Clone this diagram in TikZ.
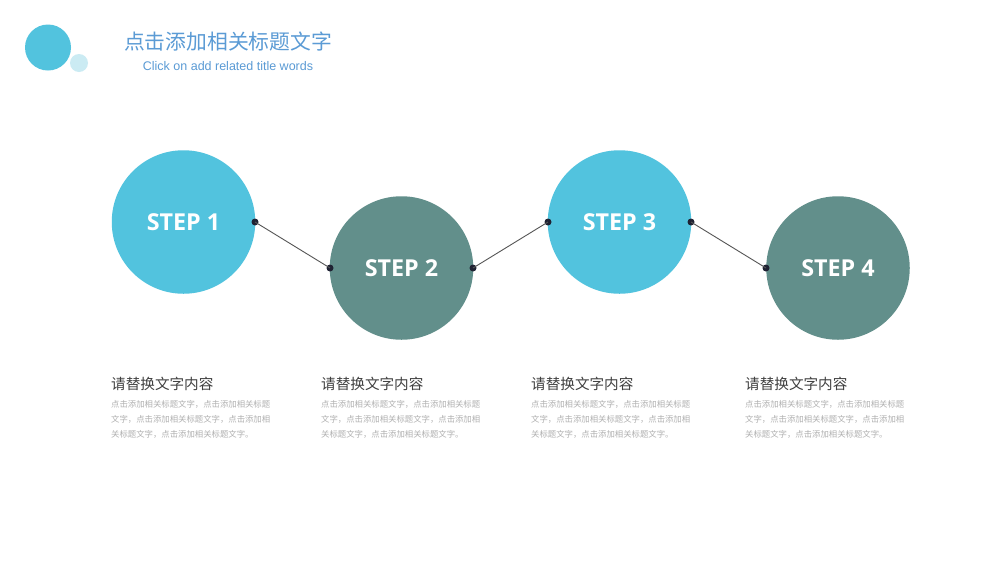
\documentclass[tikz,border=0pt]{standalone}
\usepackage{fontspec}
\setmainfont{Liberation Sans}
\newfontfamily\cjk{Noto Sans CJK SC}
\newfontfamily\stepfont{Open Sans}
\definecolor{cblue}{HTML}{52C3DE}
\definecolor{cpale}{HTML}{CBEBF3}
\definecolor{cgreen}{HTML}{628F8B}
\definecolor{ctitle}{HTML}{5B9BD5}
\definecolor{chead}{HTML}{404040}
\definecolor{cbody}{HTML}{B0B0B0}
\definecolor{cdot}{HTML}{1F2233}
\definecolor{clink}{HTML}{555555}
\tikzset{
 x=1pt,y=-1pt,
 stepcircle/.style={circle,minimum size=143.5pt,inner sep=0pt,text=white,font=\stepfont\fontsize{23.3}{28}\selectfont\bfseries},
 bluestep/.style={stepcircle,fill=cblue},
 greenstep/.style={stepcircle,fill=cgreen},
 linkdot/.style={circle,fill=cdot,minimum size=7pt,inner sep=0pt},
 link/.style={draw=clink,line width=0.9pt},
 headtext/.style={anchor=west,inner sep=0pt,text=chead,font=\cjk\fontsize{14.6}{18}\selectfont},
 bodytext/.style={anchor=north west,inner sep=0pt,text=cbody,align=left,font=\cjk\fontsize{8.37}{15}\selectfont},
}
\newcommand{\bodycopy}{点击添加相关标题文字，点击添加相关标题\\文字，点击添加相关标题文字，点击添加相\\关标题文字，点击添加相关标题文字。}
\newcommand{\steplabel}[1]{\raisebox{-0.8pt}{#1}}
\begin{document}
\begin{tikzpicture}
\useasboundingbox (0,0) rectangle (1000,563);
\fill[white] (0,0) rectangle (1000,563);
\node[circle,fill=cblue,minimum size=46pt,inner sep=0pt] (logoa) at (48,47.5) {};
\node[circle,fill=cpale,minimum size=18pt,inner sep=0pt] (logob) at (79,63) {};
\node[anchor=center,inner sep=0pt,text=ctitle,font=\cjk\fontsize{20.8}{24}\selectfont] (title) at (228,42) {点击添加相关标题文字};
\node[anchor=center,inner sep=0pt,text=ctitle,font=\fontsize{12.5}{16}\selectfont] (subtitle) at (228,66.5) {Click on add related title words};
\node[bluestep] (s1) at (183.5,222) {\steplabel{STEP 1}};
\node[greenstep] (s2) at (401.5,268) {\steplabel{STEP 2}};
\node[bluestep] (s3) at (619.5,222) {\steplabel{STEP 3}};
\node[greenstep] (s4) at (838,268) {\steplabel{STEP 4}};
\node[linkdot] (d1) at (255,222) {};
\node[linkdot] (d2) at (330,268) {};
\node[linkdot] (d3) at (473,268) {};
\node[linkdot] (d4) at (548,222) {};
\node[linkdot] (d5) at (691,222) {};
\node[linkdot] (d6) at (766,268) {};
\draw[link] (d1.center) -- (d2.center);
\draw[link] (d3.center) -- (d4.center);
\draw[link] (d5.center) -- (d6.center);
\node[headtext] (h1) at (111,384) {请替换文字内容};
\node[headtext] (h2) at (321,384) {请替换文字内容};
\node[headtext] (h3) at (531,384) {请替换文字内容};
\node[headtext] (h4) at (745,384) {请替换文字内容};
\node[bodytext] (b1) at (111,400) {\bodycopy};
\node[bodytext] (b2) at (321,400) {\bodycopy};
\node[bodytext] (b3) at (531,400) {\bodycopy};
\node[bodytext] (b4) at (745,400) {\bodycopy};
\end{tikzpicture}
\end{document}
